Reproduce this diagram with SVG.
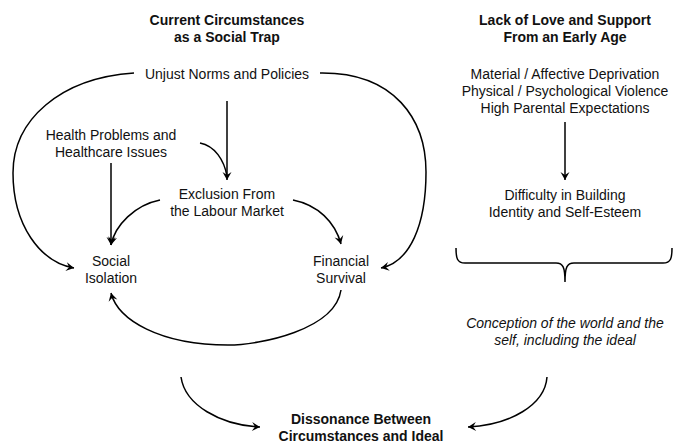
<svg xmlns="http://www.w3.org/2000/svg" width="673" height="443" viewBox="0 0 673 443">
<defs>
<marker id="ah" markerWidth="12" markerHeight="12" refX="9" refY="6" orient="auto" markerUnits="userSpaceOnUse">
<path d="M1,1.5 L9,6 L1,10.5 L4,6 Z" fill="#000"/>
</marker>
<style>
text{font-family:"Liberation Sans",Arial,sans-serif;font-size:14px;fill:#111;text-anchor:middle}
.b{font-weight:bold}
.i{font-style:italic}
.c{fill:none;stroke:#000;stroke-width:1.5}
</style>
</defs>
<rect width="673" height="443" fill="#fff"/>
<g id="title-left"><text class="b" x="227" y="25">Current Circumstances</text><text class="b" x="227" y="42">as a Social Trap</text></g>
<g id="title-right"><text class="b" x="565" y="25">Lack of Love and Support</text><text class="b" x="565" y="42">From an Early Age</text></g>
<g id="unjust"><text x="227" y="79">Unjust Norms and Policies</text></g>
<g id="health"><text x="111" y="140">Health Problems and</text><text x="111" y="157">Healthcare Issues</text></g>
<g id="exclusion"><text x="227" y="199">Exclusion From</text><text x="227" y="216">the Labour Market</text></g>
<g id="social"><text x="111" y="266">Social</text><text x="111" y="283">Isolation</text></g>
<g id="financial"><text x="341" y="266">Financial</text><text x="341" y="283">Survival</text></g>
<g id="deprivation"><text x="565" y="79">Material / Affective Deprivation</text><text x="565" y="96">Physical / Psychological Violence</text><text x="565" y="113">High Parental Expectations</text></g>
<g id="difficulty"><text x="565" y="200">Difficulty in Building</text><text x="565" y="217">Identity and Self-Esteem</text></g>
<g id="conception"><text class="i" x="565" y="328">Conception of the world and the</text><text class="i" x="565" y="345">self, including the ideal</text></g>
<g id="dissonance"><text class="b" x="361" y="424">Dissonance Between</text><text class="b" x="361" y="441">Circumstances and Ideal</text></g>
<g id="connectors">
<path class="c" d="M134,73 C60,78 13,120 13,173 C13,225 40,262 74,268" marker-end="url(#ah)"/>
<path class="c" d="M320,73 C395,72 426,120 426,172 C426,225 410,262 381,268" marker-end="url(#ah)"/>
<path class="c" d="M227,101 L227,180" marker-end="url(#ah)"/>
<path class="c" d="M200,143 C215,146 224,160 227,176"/>
<path class="c" d="M111,163 L111,245" marker-end="url(#ah)"/>
<path class="c" d="M160,200 C135,205 115,225 111,245" marker-end="url(#ah)"/>
<path class="c" d="M293,200 C318,205 335,222 341,244" marker-end="url(#ah)"/>
<path class="c" d="M341,290 C335,330 260,345 228,345 C160,345 118,320 111,293" marker-end="url(#ah)"/>
<path class="c" d="M565,122 L565,180" marker-end="url(#ah)"/>
<path class="c" d="M456,248 C456,258 457,263 465,263 L556,263 C563,263 565,267 565,282 M565,282 C565,267 567,263 574,263 L663,263 C671,263 672,258 672,248"/>
<path class="c" d="M181,377 C185,405 220,425 260,427" marker-end="url(#ah)"/>
<path class="c" d="M547,377 C545,405 510,425 468,427" marker-end="url(#ah)"/>
</g>
</svg>
